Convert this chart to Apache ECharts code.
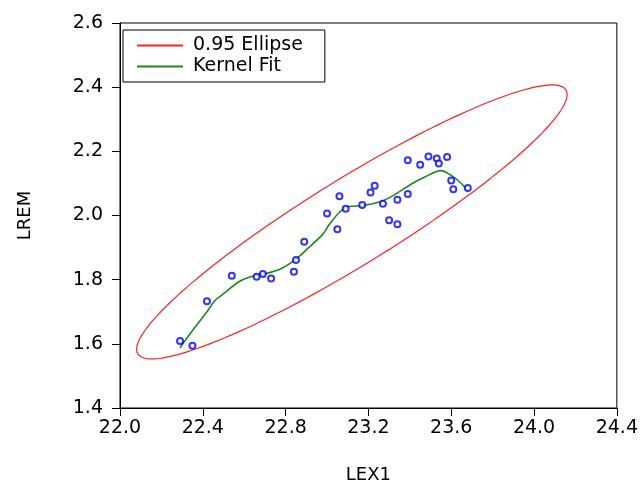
<!DOCTYPE html>
<html>
<head>
<meta charset="utf-8">
<script src="https://cdn.jsdelivr.net/npm/echarts@6/dist/echarts.min.js"></script>
<style>
  html, body { margin: 0; padding: 0; background: #fff; overflow: hidden; }
  #chart { width: 641px; height: 489px; }
</style>
</head>
<body>
<div id="chart"></div>
<script>
// observed points (LEX1, LREM)
const lex1 = [22.29, 22.35, 22.42, 22.54, 22.66, 22.69, 22.73, 22.84, 22.85, 22.89,
  23.00, 23.05, 23.06, 23.09, 23.17, 23.21, 23.23, 23.27, 23.30, 23.34,
  23.34, 23.39, 23.39, 23.45, 23.49, 23.53, 23.54, 23.58, 23.60, 23.61, 23.68]
const lrem = [1.609, 1.594, 1.733, 1.812, 1.809, 1.818, 1.804, 1.825, 1.861, 1.918,
  2.006, 1.957, 2.060, 2.021, 2.033, 2.072, 2.093, 2.037, 1.985, 1.973,
  2.049, 2.067, 2.172, 2.158, 2.184, 2.178, 2.162, 2.182, 2.109, 2.082, 2.086]

// kernel fit curve
const kernelX = [22.29, 22.36, 22.42, 22.46, 22.51, 22.57, 22.62, 22.70, 22.78, 22.85,
  22.91, 22.98, 23.01, 23.06, 23.10, 23.17, 23.24, 23.30, 23.41, 23.47,
  23.55, 23.60, 23.65, 23.68]
const kernelY = [1.588, 1.650, 1.700, 1.736, 1.761, 1.792, 1.807, 1.818, 1.835, 1.864,
  1.899, 1.942, 1.971, 2.010, 2.027, 2.031, 2.040, 2.055, 2.099, 2.119,
  2.140, 2.125, 2.099, 2.076]

// 0.95 ellipse: centre, half extents and correlation
const ellCenter = [23.12, 1.98]
const ellHalf = [1.04, 0.427]
const ellRho = 0.93

const xTicks = [22.0, 24.4, 0.4]   // min, max, step
const yTicks = [1.4, 2.6, 0.2]

const ellipsePts = []
const delta = Math.acos(ellRho)
for (let i = 0; i <= 180; i++) {
  const t = i / 180 * Math.PI * 2
  ellipsePts.push([ellCenter[0] + ellHalf[0] * Math.cos(t), ellCenter[1] + ellHalf[1] * Math.cos(t - delta)])
}

const chart = echarts.init(document.getElementById('chart'))
const font = 'DejaVu Sans'

const option = {
  animation: false,
  grid: {
    left: 120, right: 21, top: 23, bottom: 74,
    show: true, borderColor: '#000', borderWidth: 1
  },
  legend: {
    data: [
      { name: '0.95 Ellipse', icon: 'rect' },
      { name: 'Kernel Fit', icon: 'rect' }
    ],
    orient: 'vertical',
    left: 123,
    top: 30,
    itemWidth: 46,
    itemHeight: 2,
    itemGap: 2,
    padding: [6, 22, 6, 14],
    borderColor: '#000',
    borderWidth: 1,
    backgroundColor: '#fff',
    textStyle: { fontFamily: font, fontSize: 19, color: '#000', padding: [0, 0, 0, 5], lineHeight: 19 }
  },
  xAxis: {
    type: 'value',
    min: xTicks[0], max: xTicks[1], interval: xTicks[2],
    name: 'LEX1',
    nameLocation: 'middle',
    nameGap: 58,
    nameTextStyle: { fontFamily: font, fontSize: 18, color: '#000' },
    splitLine: { show: false },
    axisLine: { lineStyle: { color: '#000', width: 1 } },
    axisTick: { inside: false, length: 8, lineStyle: { color: '#000' } },
    axisLabel: {
      margin: 11, fontFamily: font, fontSize: 19, color: '#000',
      formatter: v => v.toFixed(1)
    }
  },
  yAxis: {
    type: 'value',
    min: yTicks[0], max: yTicks[1], interval: yTicks[2],
    name: 'LREM',
    nameLocation: 'middle',
    nameGap: 86,
    nameRotate: 90,
    nameTextStyle: { fontFamily: font, fontSize: 18, color: '#000' },
    splitLine: { show: false },
    axisLine: { show: true, lineStyle: { color: '#000', width: 1 } },
    axisTick: { show: true, inside: false, length: 8, lineStyle: { color: '#000' } },
    axisLabel: {
      margin: 17, fontFamily: font, fontSize: 19, color: '#000',
      formatter: v => v.toFixed(1)
    }
  },
  series: [
    {
      name: '0.95 Ellipse',
      type: 'line',
      data: ellipsePts,
      showSymbol: false,
      lineStyle: { color: '#ff2020', width: 1.2 },
      itemStyle: { color: '#ff2020' },
      z: 2
    },
    {
      name: 'Kernel Fit',
      type: 'line',
      data: kernelX.map((x, i) => [x, kernelY[i]]),
      showSymbol: false,
      smooth: 0.3,
      lineStyle: { color: '#1a8a1a', width: 1.6 },
      itemStyle: { color: '#1a8a1a' },
      z: 3
    },
    {
      name: 'LREM vs LEX1',
      type: 'scatter',
      data: lex1.map((x, i) => [x, lrem[i]]),
      symbol: 'emptyCircle',
      symbolSize: 6,
      itemStyle: { color: '#0000ff', borderWidth: 1.5 },
      z: 4
    }
  ]
}

chart.setOption(option)
</script>
</body>
</html>
